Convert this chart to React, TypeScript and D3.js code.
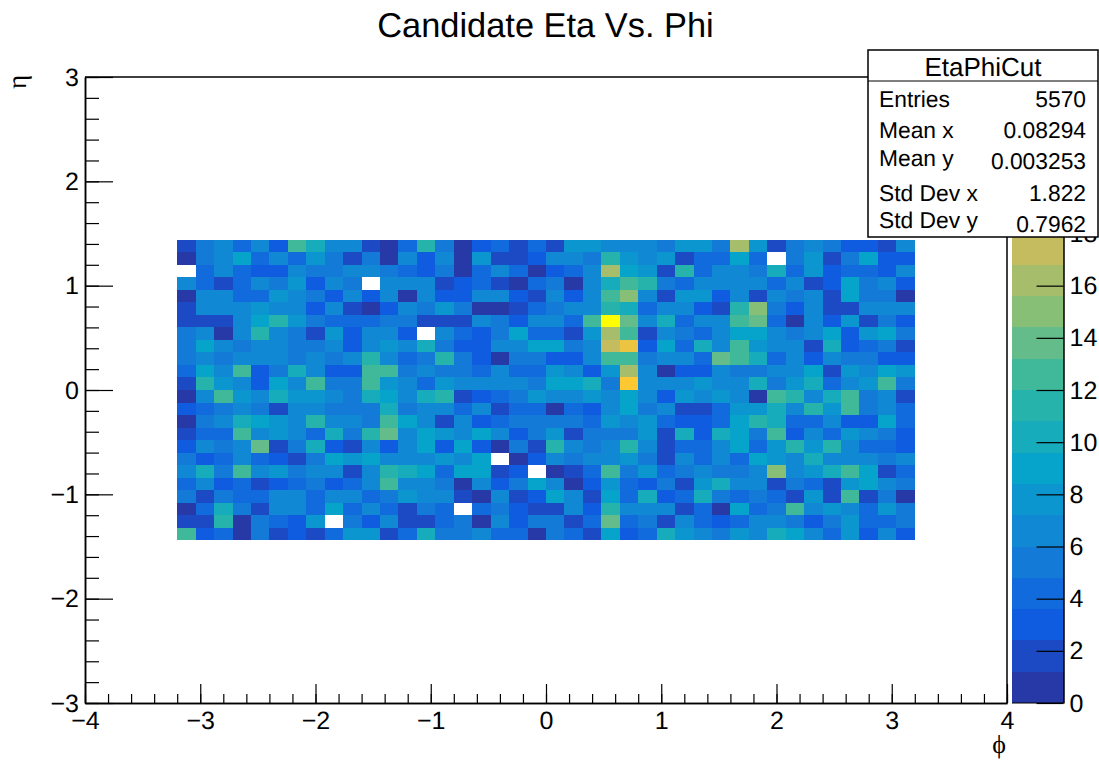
import React, { useEffect, useRef } from 'react';
import * as d3 from 'd3';

// bin contents, top row (eta = 1.44) first, phi from -3.2 to 3.2
const counts: number[][] = [
  [2,5,6,4,6,3,12,10,6,6,2,1,4,11,5,1,3,4,2,4,2,8,8,6,6,6,5,8,8,5,16,8,2,5,6,5,3,3,2,6],
  [1,5,6,9,4,6,4,8,5,2,5,1,6,3,6,1,8,2,2,3,6,6,5,11,8,6,8,2,4,4,9,4,0,5,8,2,5,9,3,3],
  [0,4,6,4,3,3,6,5,5,6,6,5,4,3,5,1,4,6,4,1,3,4,6,16,9,8,2,11,4,6,6,5,10,4,8,3,4,4,3,6],
  [6,4,2,4,6,5,8,3,6,5,0,6,6,6,2,3,4,2,1,4,5,1,6,10,12,11,5,4,6,6,6,6,4,6,2,3,9,5,6,3],
  [1,6,6,4,4,8,6,5,3,6,3,6,1,6,3,3,6,6,3,2,6,3,6,12,15,6,2,8,8,3,6,2,6,5,6,2,9,5,5,1],
  [2,6,6,6,8,6,6,3,6,2,1,3,6,5,8,5,1,1,2,4,5,6,6,11,10,4,6,6,3,2,11,15,5,3,6,2,2,6,6,6],
  [2,2,2,6,9,11,8,5,4,4,4,5,5,2,2,2,6,5,3,6,6,4,12,24,14,6,10,4,6,6,12,14,4,1,6,3,8,2,5,3],
  [5,6,1,6,11,6,5,2,8,3,6,6,3,0,6,4,3,5,9,4,4,2,8,16,12,2,6,5,4,6,9,9,6,5,6,9,3,8,9,5],
  [5,9,6,5,6,6,5,5,6,3,6,8,6,10,5,3,3,6,6,9,9,5,6,17,20,3,9,4,10,6,12,8,6,6,2,10,3,4,5,2],
  [5,6,5,6,6,6,5,6,5,6,11,6,4,5,11,5,3,1,5,5,3,3,6,12,12,5,6,6,4,14,12,10,4,6,3,6,5,5,3,3],
  [4,9,6,12,3,5,10,6,3,3,12,12,5,6,5,5,4,6,4,4,8,6,3,8,16,6,1,3,3,6,5,5,6,6,9,2,8,6,9,8],
  [2,11,8,6,3,9,6,12,5,5,12,8,6,4,8,6,6,6,6,5,9,9,10,5,21,6,6,6,8,6,6,10,5,8,10,4,6,8,12,5],
  [1,6,12,8,6,10,8,8,6,5,10,9,6,10,11,2,3,4,5,8,6,6,8,6,9,6,3,8,6,8,6,1,12,11,6,10,12,5,6,2],
  [3,4,5,6,5,2,6,6,5,5,5,10,5,7,6,4,6,2,4,4,1,4,3,6,9,5,6,2,2,4,8,8,10,6,11,8,12,5,6,4],
  [1,5,6,10,9,8,6,11,6,6,5,12,9,6,2,6,3,4,5,5,5,5,4,8,6,8,4,3,3,4,9,11,10,4,4,6,3,3,9,4],
  [2,4,4,12,6,8,6,4,10,5,11,14,6,9,8,6,9,6,3,5,8,2,5,5,5,8,2,10,3,10,9,5,12,3,6,4,8,6,5,3],
  [3,6,5,6,14,2,5,10,3,2,6,3,7,9,3,9,3,1,5,2,11,6,5,6,11,6,2,4,4,6,9,4,8,11,8,11,6,4,4,3],
  [5,3,4,6,4,3,2,5,9,8,9,6,6,6,8,6,9,0,1,3,6,5,6,6,8,5,2,6,4,6,4,9,8,6,10,6,6,6,5,6],
  [6,10,5,12,6,8,5,6,6,2,6,11,10,9,4,9,9,2,3,0,1,2,4,12,5,8,4,5,6,5,5,6,15,6,8,10,12,9,2,4],
  [4,6,3,4,2,3,4,5,3,4,6,12,6,6,5,1,6,3,5,9,6,1,3,8,4,3,5,2,8,10,6,6,2,5,4,2,8,9,6,5],
  [5,2,5,4,4,6,6,4,6,6,4,5,8,6,6,2,1,6,2,3,9,6,2,9,4,10,3,4,10,5,4,5,4,2,8,2,12,2,5,1],
  [1,4,10,5,2,6,6,4,9,4,6,4,2,5,4,0,4,5,3,2,2,6,3,11,6,6,6,2,4,1,9,4,5,12,6,8,6,4,8,5],
  [2,2,11,1,5,4,3,8,0,5,3,6,2,2,4,5,1,6,3,5,5,2,4,14,4,5,2,6,4,3,4,6,6,5,3,5,8,4,4,5],
  [12,3,4,1,5,2,3,2,4,8,8,2,4,10,5,5,6,4,4,1,5,4,2,9,3,4,10,8,6,5,8,6,10,9,6,4,8,3,6,3],
];

const phiTicks = [-4, -3, -2, -1, 0, 1, 2, 3, 4];
const etaTicks = [-3, -2, -1, 0, 1, 2, 3];
// anything above 18 sits behind the stats box
const zTicks = [0, 2, 4, 6, 8, 10, 12, 14, 16, 18];
const statLabels = ['Entries', 'Mean x', 'Mean y', 'Std Dev x', 'Std Dev y'];
const statValues = ['5570', '0.08294', '0.003253', '1.822', '0.7962'];

// kBird palette stops, first one lifted a bit to match the picture
const birdStops = [
  [44, 48, 152], [15, 92, 225], [20, 129, 214], [6, 164, 202], [46, 183, 164],
  [135, 191, 119], [212, 187, 89], [254, 200, 50], [255, 255, 0],
];
const nLevels = 20;
const zMax = 24;

const font = '"Liberation Sans", Arial, sans-serif';

const App = () => {
  const svgRef = useRef<SVGSVGElement>(null);

  useEffect(() => {
    const svg = d3.select(svgRef.current);
    svg.selectAll('*').remove();

    const x = d3.scaleLinear().domain([-4, 4]).range([85, 1007]);
    const y = d3.scaleLinear().domain([-3, 3]).range([703, 77]);
    const z = d3.scaleLinear().domain([0, zMax]).range([703, 77]);

    const bird = d3.scaleLinear<string>()
      .domain(birdStops.map((_, i) => i / (birdStops.length - 1)))
      .range(birdStops.map(c => d3.rgb(c[0], c[1], c[2]).formatHex()))
      .clamp(true);
    const levelColor = (lvl: number) => bird((lvl + 0.5) / nLevels);
    const level = (v: number) => Math.floor(v / (zMax / nLevels));

    svg.append('text')
      .attr('x', 545.5).attr('y', 37)
      .attr('text-anchor', 'middle')
      .style('font-size', '34.4px')
      .text('Candidate Eta Vs. Phi');

    // 2D histogram cells
    const xBand = d3.scaleBand<number>().domain(d3.range(40)).range([x(-3.2), x(3.2)]);
    const yBand = d3.scaleBand<number>().domain(d3.range(24)).range([y(1.44), y(-1.44)]);
    const cells = counts.flatMap((row, r) => row.map((v, c) => ({ r, c, v }))).filter(d => d.v > 0);
    svg.append('g')
      .attr('shape-rendering', 'crispEdges')
      .selectAll('rect')
      .data(cells)
      .enter().append('rect')
      .attr('x', d => xBand(d.c)!)
      .attr('y', d => yBand(d.r)!)
      .attr('width', xBand.bandwidth())
      .attr('height', yBand.bandwidth())
      .attr('fill', d => levelColor(level(d.v)));

    const styleAxis = (g: any, size: number) => {
      g.select('.domain').attr('stroke', '#000').attr('stroke-width', 1.5);
      g.selectAll('.tick line').attr('stroke', '#000').attr('stroke-width', 1.2);
      g.selectAll('.tick text').attr('fill', '#000').style('font-family', font).style('font-size', size + 'px');
    };

    // frame
    svg.append('path')
      .attr('d', d3.line()([[x(-4), y(3)], [x(4), y(3)], [x(4), y(-3)]]))
      .attr('fill', 'none').attr('stroke', '#000').attr('stroke-width', 1.5);

    // x axis
    svg.append('g')
      .attr('transform', `translate(0,${y(-3)})`)
      .call(d3.axisBottom(x).tickValues(d3.range(-4, 4.01, 0.2)).tickSize(-9).tickSizeOuter(0).tickFormat(() => ''))
      .call(styleAxis, 25);
    svg.append('g')
      .attr('transform', `translate(0,${y(-3)})`)
      .call(d3.axisBottom(x).tickValues(phiTicks).tickSize(-19).tickSizeOuter(0).tickPadding(8).tickFormat(d3.format('d')))
      .call(styleAxis, 25)
      .call((g: any) => g.selectAll('.tick text').attr('dy', '0.72em').attr('y', 8));

    // y axis
    svg.append('g')
      .attr('transform', `translate(${x(-4)},0)`)
      .call(d3.axisLeft(y).tickValues(d3.range(-3, 3.01, 0.2)).tickSize(-14).tickSizeOuter(0).tickFormat(() => ''))
      .call(styleAxis, 25);
    svg.append('g')
      .attr('transform', `translate(${x(-4)},0)`)
      .call(d3.axisLeft(y).tickValues(etaTicks).tickSize(-28).tickSizeOuter(0).tickPadding(6).tickFormat(d3.format('d')))
      .call(styleAxis, 25);

    svg.append('text')
      .attr('x', 999).attr('y', 753)
      .attr('text-anchor', 'middle')
      .style('font-family', '"Liberation Serif", serif')
      .style('font-size', '26px')
      .text('ϕ');
    svg.append('text')
      .attr('transform', 'translate(26,82) rotate(-90)')
      .attr('text-anchor', 'middle')
      .style('font-family', '"Liberation Serif", serif')
      .style('font-size', '27px')
      .text('η');

    // palette
    const barLeft = 1012;
    const barRight = 1063.5;
    const levelStep = zMax / nLevels;
    svg.append('g')
      .attr('shape-rendering', 'crispEdges')
      .selectAll('rect')
      .data(d3.range(nLevels))
      .enter().append('rect')
      .attr('x', barLeft)
      .attr('y', d => z((d + 1) * levelStep))
      .attr('width', barRight - barLeft)
      .attr('height', d => z(d * levelStep) - z((d + 1) * levelStep))
      .attr('fill', d => levelColor(d));
    svg.append('g')
      .attr('transform', `translate(${barRight},0)`)
      .call(d3.axisRight(z).tickValues(zTicks).tickSize(-27).tickSizeOuter(0).tickPadding(6).tickFormat(d3.format('d')))
      .call(styleAxis, 25)
      .call((g: any) => g.selectAll('.tick text').attr('x', 6));
    svg.append('line')
      .attr('x1', barLeft).attr('x2', barRight)
      .attr('y1', z(0)).attr('y2', z(0))
      .attr('stroke', '#000').attr('stroke-width', 1.2);

    // stats box
    const stats = svg.append('g');
    stats.append('rect')
      .attr('x', 868).attr('y', 50).attr('width', 230).attr('height', 187)
      .attr('fill', '#fff').attr('stroke', '#000').attr('stroke-width', 1.5);
    stats.append('line')
      .attr('x1', 868).attr('x2', 1098).attr('y1', 81).attr('y2', 81)
      .attr('stroke', '#000').attr('stroke-width', 1.2);
    stats.append('text')
      .attr('x', 983).attr('y', 76)
      .attr('text-anchor', 'middle')
      .style('font-size', '26px')
      .text('EtaPhiCut');
    const labelY = [107, 138, 166, 200.5, 228];
    const valueY = [107, 138, 169, 200.5, 232];
    stats.selectAll('.stat-label')
      .data(statLabels)
      .enter().append('text')
      .attr('class', 'stat-label')
      .attr('x', 879)
      .attr('y', (_, i) => labelY[i])
      .style('font-size', '22.8px')
      .text(d => d);
    stats.selectAll('.stat-value')
      .data(statValues)
      .enter().append('text')
      .attr('class', 'stat-value')
      .attr('x', 1086)
      .attr('y', (_, i) => valueY[i])
      .attr('text-anchor', 'end')
      .style('font-size', '22.8px')
      .text(d => d);
  }, []);

  return (
    <svg
      ref={svgRef}
      width={1099}
      height={761}
      style={{ position: 'absolute', left: 0, top: 0, fontFamily: font, background: '#fff', textRendering: 'geometricPrecision' }}
    />
  );
};

export default App;
